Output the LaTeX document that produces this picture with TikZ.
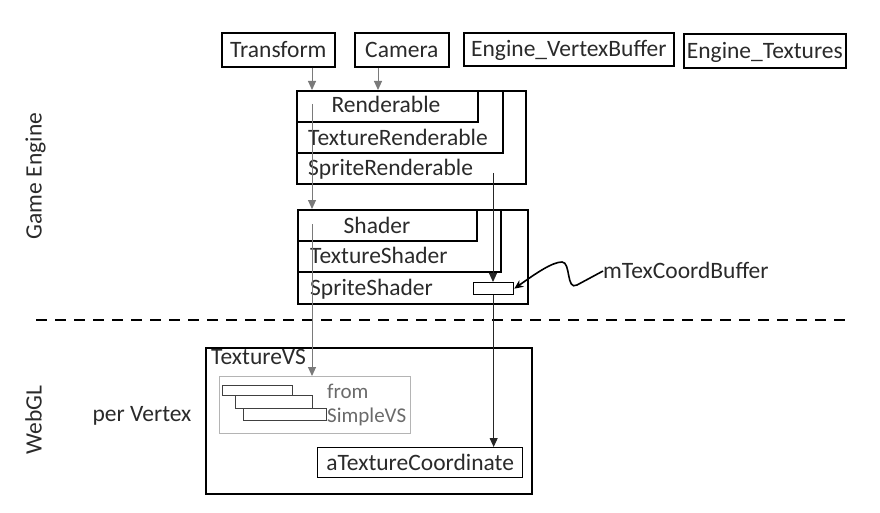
\documentclass[tikz,border=0pt]{standalone}
\usepackage{fontspec}
\setmainfont{Carlito}
\usetikzlibrary{arrows.meta,calc}
\definecolor{txt}{HTML}{2A2A2A}
\definecolor{garr}{HTML}{7A7A7A}
\definecolor{lgray}{HTML}{B4B4B4}
\definecolor{gtxt}{HTML}{6A6A6A}
\begin{document}
\begin{tikzpicture}[x=1pt,y=-1pt,
  big/.style={font=\fontsize{23.5}{27}\selectfont},
  box/.style={draw=black, line width=1.7pt, inner sep=0pt, anchor=north west, big, text=txt, text height=15pt, text depth=0pt},
  thickbox/.style={box, line width=2.4pt},
  lbl/.style={inner sep=0pt, big, text=txt, text height=15pt, text depth=0pt},
  smalllbl/.style={inner sep=0pt, font=\fontsize{21}{24}\selectfont, text=gtxt, text height=13.5pt, text depth=0pt, anchor=west},
  garrow/.style={draw=garr, line width=1pt, -{Triangle[width=8pt,length=9pt]}},
  darrow/.style={draw=black!85, line width=1pt, -{Triangle[width=8pt,length=9pt]}},
  minirect/.style={draw=black!75, line width=1.1pt, inner sep=0pt, anchor=north west},
]
\useasboundingbox (0,0) rectangle (880,513);

% top row
\node[box, minimum width=113pt, minimum height=34pt] (tr) at (221,32) {Transform};
\node[box, minimum width=94pt, minimum height=34pt] (cam) at (354,32) {Camera};
\node[box, minimum width=210pt, minimum height=33pt] (evb) at (463,32) {Engine\_VertexBuffer};
\node[box, minimum width=162pt, minimum height=34pt] (etx) at (683,33) {Engine\_Textures};

% Renderable group
\node[box, minimum width=229pt, minimum height=93pt] (sprR) at (296,90) {};
\node[thickbox, minimum width=206pt, minimum height=62pt] (texR) at (296,90) {};
\node[thickbox, minimum width=181pt, minimum height=31pt] (ren) at (296,90) {};
\node[lbl] (renT) at (386,105) {Renderable};
\node[lbl, anchor=west] (texRT) at (308,138) {TextureRenderable};
\node[lbl, anchor=west] (sprRT) at (308,168) {SpriteRenderable};

% Shader group
\node[box, minimum width=230pt, minimum height=94pt] (sprS) at (297,209) {};
\node[thickbox, minimum width=203pt, minimum height=62pt] (texS) at (297,209) {};
\node[thickbox, minimum width=179pt, minimum height=31pt] (sha) at (297,209) {};
\node[lbl] (shaT) at (377,226) {Shader};
\node[lbl, anchor=west] (texST) at (310,256) {TextureShader};
\node[lbl, anchor=west] (sprST) at (310,288) {SpriteShader};
\node[minirect, draw=black, line width=1.3pt, minimum width=40pt, minimum height=12pt] (mtex) at (473,282) {};
\node[lbl, anchor=west] (mtcb) at (603,271) {mTexCoordBuffer};

% dashed divider
\coordinate (dl) at (36,320);
\coordinate (dr) at (852,320);
\draw[line width=2.6pt, dash pattern=on 11pt off 8pt] (dl) -- (dr);

% side labels
\node[lbl, rotate=90] (ge) at (34,176) {Game Engine};
\node[lbl, rotate=90] (wgl) at (34,420) {WebGL};
\node[lbl] (pv) at (142,414) {per Vertex};

% WebGL box
\node[box, minimum width=326pt, minimum height=146pt] (tvs) at (205,347) {};
\node[lbl, anchor=west] (tvsT) at (211,357) {TextureVS};
\node[draw=lgray, line width=1.2pt, inner sep=0pt, anchor=north west, minimum width=191pt, minimum height=57pt] (svs) at (219,376) {};
\node[minirect, minimum width=70pt, minimum height=10pt] (r1) at (222,385) {};
\node[minirect, minimum width=77pt, minimum height=13pt] (r2) at (235,395) {};
\node[minirect, minimum width=83pt, minimum height=12pt] (r3) at (243,408) {};
\node[smalllbl] (from) at (327,392) {from};
\node[smalllbl] (svsT) at (327,416) {SimpleVS};
\node[box, line width=1.3pt, minimum width=205pt, minimum height=30pt] (atc) at (317,447) {aTextureCoordinate};

% connectors
\coordinate (tx) at (312,0);
\coordinate (cx) at (378,0);
\coordinate (g1) at (312,104);
\coordinate (g2) at (312,224);
\coordinate (d1) at (493,173);
\draw[garrow] (tr.south -| tx) -- (sprR.north -| tx);
\draw[garrow] (cam.south -| cx) -- (sprR.north -| cx);
\draw[garrow] (g1) -- (sprS.north -| g1);
\draw[garrow] (g2) -- (svs.north -| g2);
\draw[darrow] (d1) -- (mtex.north -| d1);
\draw[darrow] (mtex.south) -- (atc.north -| mtex.south);
\draw[line width=1.6pt, black, -{Stealth[width=8pt,length=9pt]}] (mtcb.west) -- (577,285)
  .. controls (566,291) and (571,262) .. (562,262)
  .. controls (552,262) and (535,274) .. (mtex.east);
\end{tikzpicture}
\end{document}
